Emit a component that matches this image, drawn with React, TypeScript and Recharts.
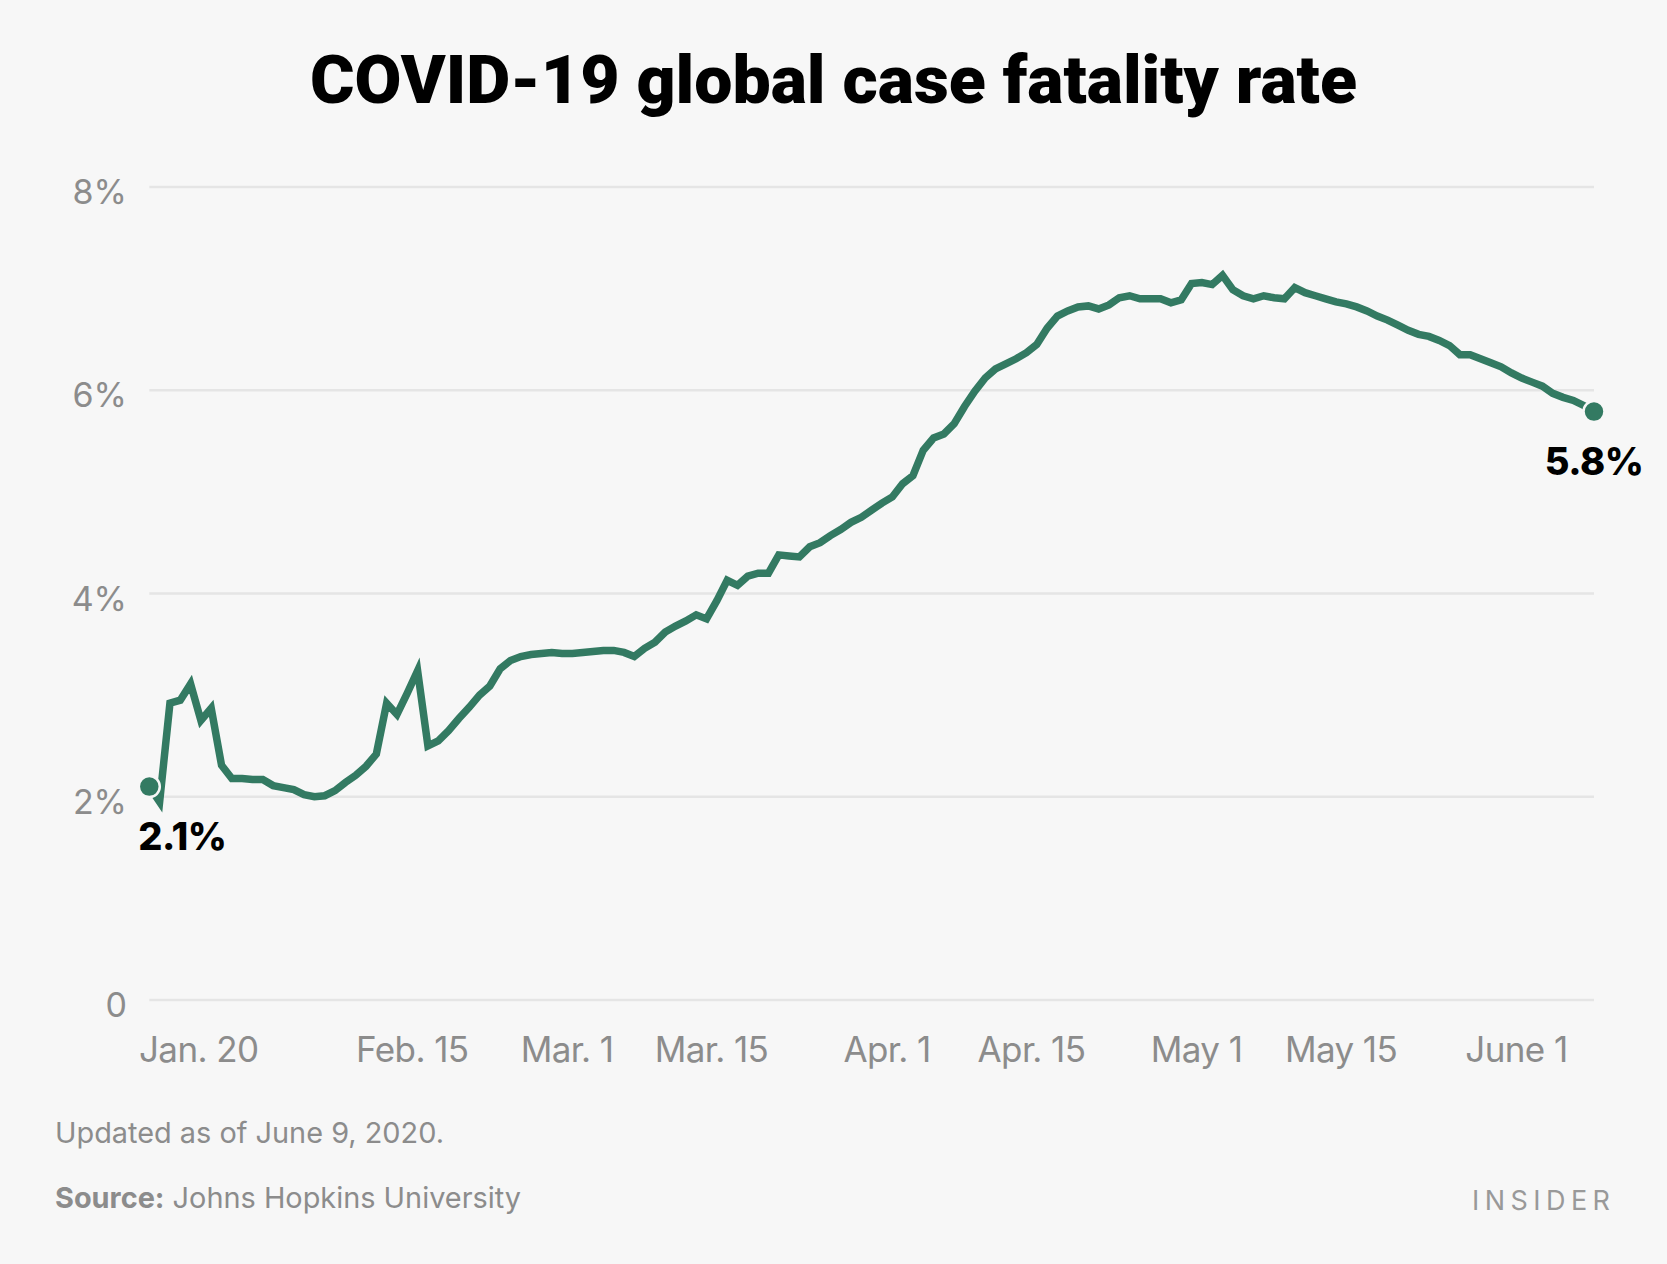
import React from "react";
import { LineChart, Line, XAxis, YAxis, CartesianGrid } from "recharts";

// Day index counted from Jan. 20, 2020 (Jan. 21 = 1 ... June 9 = 141)
const FIRST_DAY = 1;

// Global case fatality rate (%) per day, Jan. 21 – June 9, 2020
const cfrValues = [
  2.10, 1.95, 2.92, 2.95, 3.11, 2.75, 2.87, 2.31, 2.18, 2.18,
  2.17, 2.17, 2.11, 2.09, 2.07, 2.02, 2.00, 2.01, 2.06, 2.14,
  2.21, 2.30, 2.42, 2.92, 2.81, 3.02, 3.24, 2.50, 2.55, 2.65,
  2.77, 2.88, 3.00, 3.09, 3.26, 3.34, 3.38, 3.40, 3.41, 3.42,
  3.41, 3.41, 3.42, 3.43, 3.44, 3.44, 3.42, 3.38, 3.46, 3.52,
  3.62, 3.68, 3.73, 3.79, 3.75, 3.93, 4.13, 4.08, 4.17, 4.20,
  4.20, 4.38, 4.37, 4.36, 4.46, 4.50, 4.57, 4.63, 4.70, 4.75,
  4.82, 4.89, 4.95, 5.08, 5.16, 5.41, 5.53, 5.57, 5.67, 5.84,
  5.99, 6.12, 6.21, 6.26, 6.31, 6.37, 6.45, 6.61, 6.73, 6.78,
  6.82, 6.83, 6.80, 6.84, 6.91, 6.93, 6.90, 6.90, 6.90, 6.86,
  6.89, 7.05, 7.06, 7.04, 7.13, 6.99, 6.93, 6.90, 6.93, 6.91,
  6.90, 7.01, 6.96, 6.93, 6.90, 6.87, 6.85, 6.82, 6.78, 6.73,
  6.69, 6.64, 6.59, 6.55, 6.53, 6.49, 6.44, 6.35, 6.35, 6.31,
  6.27, 6.23, 6.17, 6.12, 6.08, 6.04, 5.97, 5.93, 5.90, 5.85,
  5.79,
];

const tickDays = [0, 26, 41, 55, 72, 86, 102, 116, 133];
const tickLabels = ["Jan. 20", "Feb. 15", "Mar. 1", "Mar. 15", "Apr. 1", "Apr. 15", "May 1", "May 15", "June 1"];

const yTicks = [0, 2, 4, 6, 8];
const yTickLabels = ["0", "2%", "4%", "6%", "8%"];

const startLabel = "2.1%";
const endLabel = "5.8%";

const data = cfrValues.map((v, i) => ({ day: FIRST_DAY + i, cfr: v }));

const GREEN = "#337a62";
const BG = "#f7f7f7";
const GREY = "#8c8c8c";

const XTick = (props: any) => {
  const { x, payload, index } = props;
  const first = index === 0;
  return (
    <text
      x={first ? x : x + 5}
      y={1062}
      textAnchor={first ? "start" : "middle"}
      fill={GREY}
      fontFamily="Inter, sans-serif"
      fontSize={35}
      letterSpacing={-0.6}
    >
      {tickLabels[tickDays.indexOf(payload.value)]}
    </text>
  );
};

const YTick = (props: any) => {
  const { y, payload } = props;
  return (
    <text
      x={127}
      y={y + 17}
      textAnchor="end"
      fill={GREY}
      fontFamily="Inter, sans-serif"
      fontSize={34}
    >
      {yTickLabels[yTicks.indexOf(payload.value)]}
    </text>
  );
};

const renderDot = (props: any) => {
  const { cx, cy, index } = props;
  const last = data.length - 1;
  if (index !== 0 && index !== last) return <g key={`dot-${index}`} />;
  const isFirst = index === 0;
  return (
    <g key={`dot-${index}`}>
      <circle cx={cx} cy={cy} r={10.5} fill={GREEN} stroke={BG} strokeWidth={2.5} />
      <text
        x={isFirst ? cx - 11 : cx}
        y={cy + 63}
        textAnchor={isFirst ? "start" : "middle"}
        fill="#000"
        fontFamily="Inter, sans-serif"
        fontWeight={800}
        fontSize={38}
        letterSpacing={-0.5}
      >
        {isFirst ? startLabel : endLabel}
      </text>
    </g>
  );
};

export default function App() {
  return (
    <div
      style={{
        position: "absolute",
        left: 0,
        top: 0,
        width: 1667,
        height: 1264,
        background: BG,
        overflow: "hidden",
      }}
    >
      <LineChart
        width={1667}
        height={1264}
        data={data}
        margin={{ top: 187, right: 73, bottom: 194, left: 0 }}
      >
        <CartesianGrid vertical={false} stroke="#e5e5e5" strokeWidth={2.5} />
        <XAxis
          type="number"
          dataKey="day"
          domain={[1, 141]}
          ticks={tickDays}
          interval={0}
          axisLine={false}
          tickLine={false}
          height={70}
          tick={<XTick />}
        />
        <YAxis
          type="number"
          domain={[0, 8]}
          ticks={yTicks}
          interval={0}
          width={149.3}
          axisLine={false}
          tickLine={false}
          tick={<YTick />}
        />
        <Line
          type="linear"
          dataKey="cfr"
          stroke={GREEN}
          strokeWidth={7.5}
          strokeMiterlimit={10}
          dot={renderDot}
          activeDot={false}
          isAnimationActive={false}
        />
      </LineChart>
      <svg
        width={1667}
        height={1264}
        style={{ position: "absolute", left: 0, top: 0, pointerEvents: "none" }}
      >
        <text
          x={833.5}
          y={103}
          textAnchor="middle"
          fontFamily="Roboto, sans-serif"
          fontWeight={900}
          fontSize={67}
          fill="#000"
          textLength={1047}
          lengthAdjust="spacingAndGlyphs"
        >
          COVID-19 global case fatality rate
        </text>
        <text
          x={55}
          y={1143}
          fontFamily="Inter, sans-serif"
          fontSize={29}
          fill={GREY}
          textLength={389}
          lengthAdjust="spacingAndGlyphs"
        >
          Updated as of June 9, 2020.
        </text>
        <text
          x={55}
          y={1208}
          fontFamily="Inter, sans-serif"
          fontSize={29}
          fill={GREY}
          textLength={466}
          lengthAdjust="spacingAndGlyphs"
        >
          <tspan fontWeight={700}>Source:</tspan> Johns Hopkins University
        </text>
        <text
          x={1472}
          y={1210}
          fontFamily="Inter, sans-serif"
          fontSize={27}
          fill="#999999"
          textLength={138}
          lengthAdjust="spacing"
        >
          INSIDER
        </text>
      </svg>
    </div>
  );
}
